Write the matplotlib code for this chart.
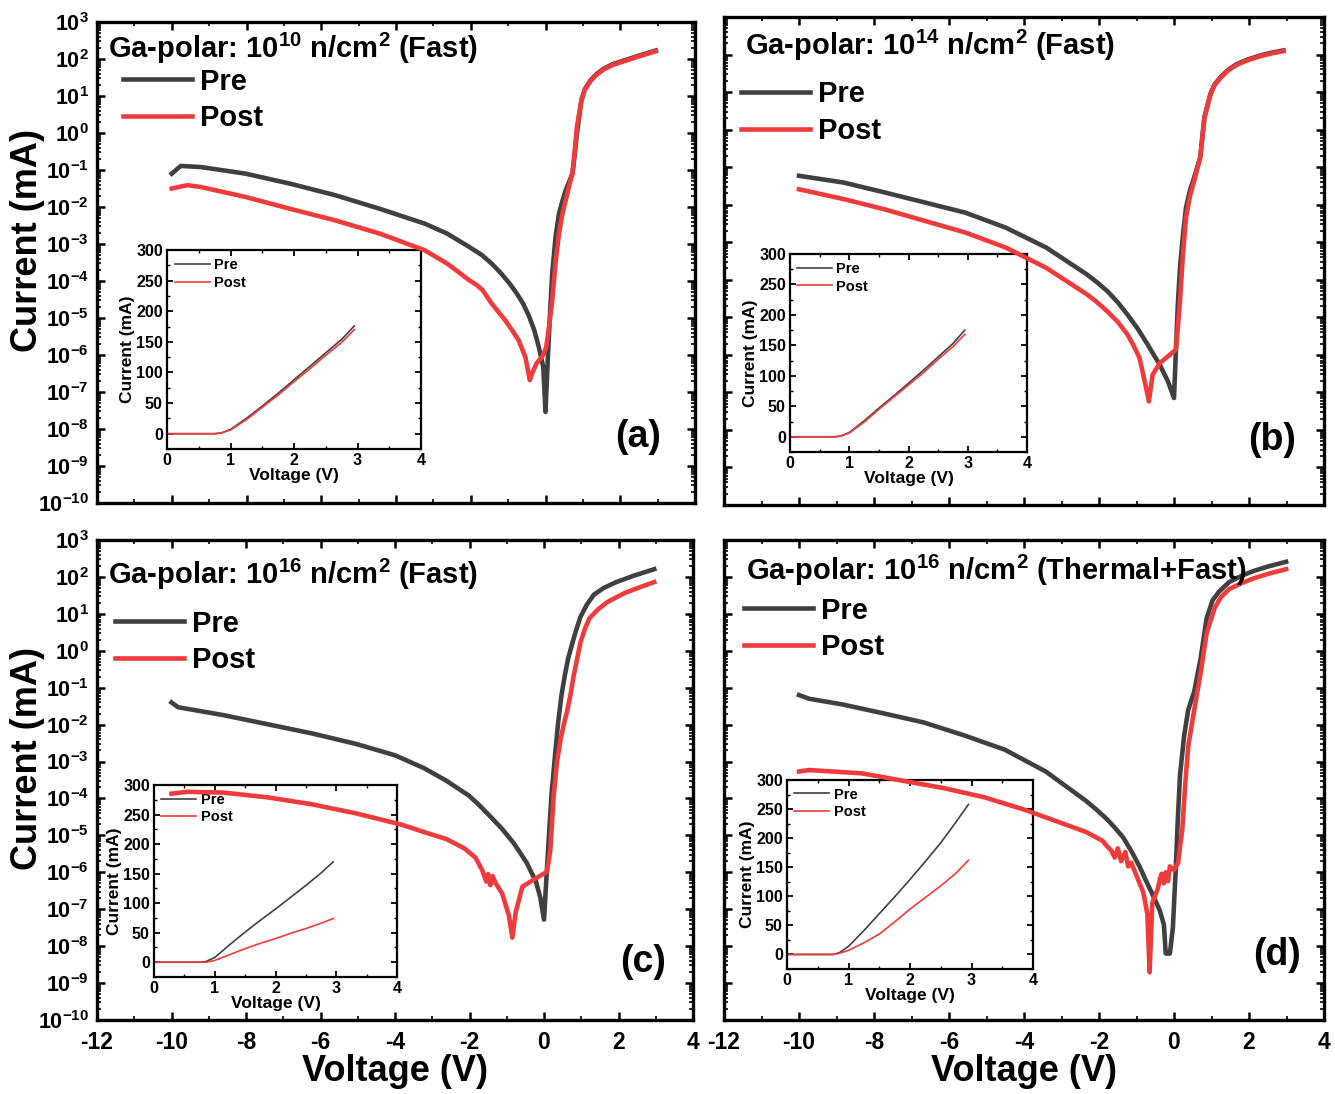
import matplotlib
matplotlib.use("Agg")
import matplotlib.pyplot as plt
import numpy as np
from matplotlib.ticker import MultipleLocator, LogLocator, NullFormatter

plt.rcParams['font.family'] = ['Liberation Sans', 'DejaVu Sans']
plt.rcParams['font.weight'] = 'bold'
plt.rcParams['axes.labelweight'] = 'bold'
plt.rcParams['mathtext.fontset'] = 'custom'
plt.rcParams['mathtext.rm'] = 'Liberation Sans:bold'
plt.rcParams['mathtext.it'] = 'Liberation Sans:bold'
plt.rcParams['mathtext.bf'] = 'Liberation Sans:bold'
plt.rcParams['mathtext.sf'] = 'Liberation Sans:bold'
plt.rcParams['mathtext.default'] = 'rm'
plt.rcParams['axes.unicode_minus'] = False

# ---------------- data (voltage in V, log10 of current in mA) ----------------
Va_pre = [-10, -9.76, -9.22, -8.02, -6.83, -5.63, -4.43, -3.23, -2.63, -2.04, -1.7, -1.44,
          -1.2, -0.96, -0.78, -0.60, -0.45, -0.30, -0.18, -0.06, 0.0, 0.06, 0.12, 0.18, 0.27,
          0.36, 0.45, 0.54, 0.64, 0.72, 0.78, 0.84, 0.96, 1.05, 1.2, 1.35, 1.56, 1.8, 2.16,
          2.5, 2.95]
logIa_pre = [-1.10, -0.89, -0.92, -1.10, -1.37, -1.68, -2.05, -2.45, -2.72, -3.08, -3.3, -3.53,
             -3.78, -4.07, -4.32, -4.61, -4.93, -5.33, -5.78, -6.32, -7.54, -6.14, -4.9, -3.8,
             -2.8, -2.18, -1.85, -1.55, -1.3, -1.10, -0.6, -0.02, 0.88, 1.18, 1.42, 1.58, 1.74,
             1.86, 1.98, 2.09, 2.23]
Va_post = [-10, -9.58, -9.22, -8.02, -6.83, -5.63, -4.43, -3.23, -2.63, -2.35, -2.04, -1.85,
           -1.68, -1.44, -1.08, -0.9, -0.72, -0.54, -0.42, -0.36, -0.24, -0.06, 0.02, 0.10, 0.18,
           0.27, 0.36, 0.45, 0.54, 0.64, 0.72, 0.78, 0.84, 0.96, 1.05, 1.2, 1.35, 1.56, 1.8,
           2.16, 2.5, 2.95]
logIa_post = [-1.50, -1.41, -1.46, -1.73, -2.05, -2.36, -2.72, -3.17, -3.53, -3.74, -3.98, -4.1,
              -4.25, -4.61, -5.06, -5.32, -5.60, -6.05, -6.68, -6.50, -6.23, -6.00, -5.78, -5.2,
              -4.52, -3.5, -2.72, -2.2, -1.82, -1.4, -1.10, -0.5, 0.16, 0.88, 1.16, 1.40, 1.56,
              1.72, 1.84, 1.96, 2.07, 2.21]

Vb_pre = [-10, -8.81, -7.73, -6.65, -5.57, -4.49, -3.41, -2.32, -2.05, -1.78, -1.5, -1.24,
          -0.97, -0.70, -0.54, -0.38, -0.16, 0.0, 0.05, 0.10, 0.16, 0.24, 0.32, 0.43, 0.54,
          0.62, 0.70, 0.81, 0.97, 1.08, 1.24, 1.45, 1.68, 2.0, 2.32, 2.6, 2.92]
logIb_pre = [-1.23, -1.41, -1.67, -1.94, -2.21, -2.61, -3.14, -3.86, -4.07, -4.30, -4.6, -4.93,
             -5.3, -5.73, -6.0, -6.26, -6.71, -7.15, -5.9, -4.7, -3.68, -2.8, -2.08, -1.6, -1.27,
             -1.0, -0.74, 0.33, 0.95, 1.2, 1.40, 1.6, 1.75, 1.88, 1.98, 2.05, 2.11]
Vb_post = [-10, -8.81, -7.73, -6.65, -5.57, -4.49, -3.41, -2.32, -2.05, -1.78, -1.5, -1.24,
           -1.08, -0.92, -0.76, -0.67, -0.57, -0.38, -0.16, 0.05, 0.10, 0.16, 0.24, 0.32, 0.43,
           0.54, 0.62, 0.70, 0.81, 0.97, 1.08, 1.24, 1.45, 1.68, 2.0, 2.32, 2.6, 2.92]
logIb_post = [-1.59, -1.85, -2.12, -2.43, -2.74, -3.14, -3.68, -4.39, -4.6, -4.84, -5.12, -5.46,
              -5.75, -6.08, -6.80, -7.24, -6.53, -6.22, -6.04, -5.86, -5.3, -4.57, -3.3, -2.34,
              -1.75, -1.36, -1.05, -0.74, 0.30, 0.93, 1.18, 1.38, 1.58, 1.73, 1.86, 1.96, 2.03,
              2.09]

Vc_pre = [-10, -9.82, -8.62, -7.42, -6.22, -5.02, -4.0, -3.22, -2.62, -2.02, -1.72, -1.42,
          -1.12, -0.82, -0.64, -0.46, -0.34, -0.22, -0.10, 0.0, 0.08, 0.14, 0.20, 0.29, 0.38,
          0.47, 0.56, 0.65, 0.74, 0.86, 0.98, 1.15, 1.34, 1.6, 1.94, 2.4, 2.96]
logIc_pre = [-1.40, -1.53, -1.74, -1.99, -2.24, -2.53, -2.83, -3.18, -3.52, -3.92, -4.2, -4.51,
             -4.83, -5.20, -5.47, -5.75, -6.0, -6.24, -6.68, -7.28, -5.89, -4.9, -3.92, -2.9,
             -1.94, -1.2, -0.66, -0.2, 0.13, 0.55, 0.92, 1.25, 1.52, 1.70, 1.86, 2.03, 2.21]
Vc_post = [-10, -9.58, -8.62, -7.42, -6.22, -5.02, -3.82, -3.22, -2.62, -2.14, -1.84, -1.66,
           -1.55, -1.50, -1.44, -1.38, -1.30, -1.12, -0.94, -0.85, -0.76, -0.58, -0.34, -0.10,
           0.08, 0.17, 0.26, 0.35, 0.44, 0.53, 0.62, 0.71, 0.80, 0.98, 1.1, 1.22, 1.45, 1.70,
           2.18, 2.6, 2.96]
logIc_post = [-3.87, -3.82, -3.84, -3.97, -4.16, -4.41, -4.71, -4.91, -5.10, -5.35, -5.60, -5.94,
              -6.25, -6.05, -6.35, -6.10, -6.29, -6.58, -7.18, -7.77, -7.08, -6.39, -6.24, -6.09,
              -5.99, -5.40, -3.92, -3.0, -2.43, -2.0, -1.64, -1.2, -0.66, 0.23, 0.6, 0.88, 1.12,
              1.32, 1.57, 1.73, 1.86]

Vd_pre = [-10, -9.73, -8.86, -7.77, -6.68, -5.6, -4.51, -3.42, -2.34, -2.07, -1.79, -1.57,
          -1.36, -1.14, -0.92, -0.76, -0.60, -0.38, -0.27, -0.22, -0.11, -0.03, 0.05, 0.10, 0.16,
          0.27, 0.38, 0.54, 0.71, 0.87, 1.03, 1.2, 1.47, 1.8, 2.12, 2.5, 2.99]
logId_pre = [-1.20, -1.30, -1.45, -1.69, -1.94, -2.29, -2.68, -3.27, -4.07, -4.3, -4.56, -4.8,
             -5.05, -5.42, -5.84, -6.2, -6.54, -7.03, -7.42, -8.2, -8.2, -7.5, -5.84, -4.6, -3.37,
             -2.3, -1.60, -1.1, -0.21, 0.88, 1.37, 1.6, 1.86, 2.03, 2.16, 2.28, 2.41]
Vd_post = [-10, -9.73, -8.32, -7.23, -6.14, -5.05, -3.97, -2.88, -2.34, -1.90, -1.78, -1.68,
           -1.58, -1.50, -1.41, -1.30, -1.22, -1.14, -0.98, -0.82, -0.71, -0.65, -0.58, -0.43,
           -0.38, -0.33, -0.27, -0.22, -0.16, -0.11, 0.0, 0.11, 0.16, 0.22, 0.30, 0.38, 0.54,
           0.71, 0.87, 1.09, 1.25, 1.47, 1.8, 2.12, 2.5, 2.99]
logId_post = [-3.27, -3.23, -3.32, -3.52, -3.72, -3.97, -4.31, -4.71, -4.91, -5.15, -5.30, -5.40,
              -5.60, -5.35, -5.70, -5.45, -5.84, -5.74, -6.14, -6.54, -7.13, -8.71, -6.83, -6.44,
              -6.20, -6.04, -6.30, -6.0, -6.24, -5.84, -5.94, -5.74, -5.3, -4.86, -3.6, -2.58,
              -1.60, -0.61, 0.48, 1.17, 1.45, 1.67, 1.83, 1.96, 2.08, 2.21]

# inset (linear) data
Vin = [0, 0.5, 0.75, 0.85, 1.0, 1.25, 1.5, 1.75, 2.0, 2.25, 2.5, 2.75, 2.95]
Ia_in_pre = [0, 0, 0, 1, 7, 25, 45, 66, 88, 110, 132, 154, 176]
Ia_in_post = [0, 0, 0, 1, 6, 23, 43, 63, 85, 106, 128, 149, 170]
Ib_in_pre = [0, 0, 0, 1, 7, 26, 47, 67, 88, 109, 131, 153, 175]
Ib_in_post = [0, 0, 0, 1, 6, 24, 45, 65, 85, 105, 127, 148, 168]
Ic_in_pre = [0, 0, 0, 1, 8, 30, 51, 71, 90, 110, 130, 151, 170]
Ic_in_post = [0, 0, 0, 0, 3, 13, 23, 32, 40, 49, 57, 66, 74]
Id_in_pre = [0, 0, 0, 3, 14, 41, 70, 99, 129, 160, 192, 228, 258]
Id_in_post = [0, 0, 0, 2, 7, 20, 35, 56, 78, 98, 118, 140, 162]

titles = [r'Ga-polar: 10$^{10}$ n/cm$^{2}$ (Fast)',
          r'Ga-polar: 10$^{14}$ n/cm$^{2}$ (Fast)',
          r'Ga-polar: 10$^{16}$ n/cm$^{2}$ (Fast)',
          r'Ga-polar: 10$^{16}$ n/cm$^{2}$ (Thermal+Fast)']
panel_labels = ['(a)', '(b)', '(c)', '(d)']
series_labels = ['Pre', 'Post']

PRE_C = '#404040'
POST_C = '#ef3b3b'

W, H = 1335, 1094
fig = plt.figure(figsize=(W / 100, H / 100), dpi=100)


def rect(l, r, t, b):
    return [l / W, 1 - b / H, (r - l) / W, (b - t) / H]


main_rects = [rect(97, 695, 22, 503), rect(724, 1324, 17, 505),
              rect(97, 693, 540, 1020), rect(724, 1324, 540, 1020)]
inset_rects = [rect(167, 421, 250, 449), rect(790, 1027, 254, 452),
               rect(154, 397, 785, 977), rect(787, 1033, 780, 969)]
title_pos = [(0.018, 0.925), (0.035, 0.922), (0.018, 0.908), (0.037, 0.917)]
leg_pos = [(0.043, 0.905), (0.028, 0.870), (0.030, 0.855), (0.033, 0.882)]
plab_pos = [(0.905, 0.137), (0.913, 0.133), (0.916, 0.121), (0.922, 0.135)]
ilegpos = [(0.03, 0.96), (0.03, 0.96), (0.03, 0.96), (0.03, 0.96)]

main_data = [(Va_pre, logIa_pre, Va_post, logIa_post),
             (Vb_pre, logIb_pre, Vb_post, logIb_post),
             (Vc_pre, logIc_pre, Vc_post, logIc_post),
             (Vd_pre, logId_pre, Vd_post, logId_post)]
inset_data = [(Ia_in_pre, Ia_in_post), (Ib_in_pre, Ib_in_post),
              (Ic_in_pre, Ic_in_post), (Id_in_pre, Id_in_post)]

for i in range(4):
    # inset first, lower zorder so that the main curves are drawn over it
    axi = fig.add_axes(inset_rects[i], zorder=1)
    ip, iq = inset_data[i]
    axi.plot(Vin, ip, color=PRE_C, lw=1.2, label=series_labels[0])
    axi.plot(Vin, iq, color=POST_C, lw=1.2, label=series_labels[1])
    axi.set_xlim(0, 4)
    axi.set_ylim(-25, 300)
    axi.xaxis.set_major_locator(MultipleLocator(1))
    axi.xaxis.set_minor_locator(MultipleLocator(0.5))
    axi.yaxis.set_major_locator(MultipleLocator(50))
    axi.yaxis.set_minor_locator(MultipleLocator(25))
    axi.tick_params(which='both', direction='in', top=True, right=True, labelsize=11.5, pad=3)
    axi.tick_params(which='major', length=4, width=1.3)
    axi.tick_params(which='minor', length=2.5, width=1.0)
    for s in axi.spines.values():
        s.set_linewidth(1.6)
    axi.set_xlabel('Voltage (V)', fontsize=12.5, labelpad=0)
    axi.set_ylabel('Current (mA)', fontsize=12.5, labelpad=1)
    axi.legend(loc='upper left', bbox_to_anchor=ilegpos[i], frameon=False, fontsize=10.5,
               handlelength=2.4, handletextpad=0.3, labelspacing=0.25, borderaxespad=0,
               borderpad=0)

    ax = fig.add_axes(main_rects[i], zorder=2)
    ax.patch.set_alpha(0)
    vp, lp, vq, lq = main_data[i]
    ax.plot(vp, 10 ** np.array(lp), color=PRE_C, lw=3.3, label=series_labels[0])
    ax.plot(vq, 10 ** np.array(lq), color=POST_C, lw=3.3, label=series_labels[1])
    ax.set_yscale('log')
    ax.set_xlim(-12, 4)
    ax.set_ylim(1e-10, 1e3)
    ax.xaxis.set_major_locator(MultipleLocator(2))
    ax.xaxis.set_minor_locator(MultipleLocator(1))
    ax.yaxis.set_major_locator(LogLocator(base=10, numticks=30))
    ax.yaxis.set_minor_locator(LogLocator(base=10, subs=np.arange(2, 10), numticks=30))
    ax.yaxis.set_minor_formatter(NullFormatter())
    ax.tick_params(which='both', direction='in', top=True, right=True, pad=6)
    ax.tick_params(axis='y', labelsize=15.5)
    ax.tick_params(axis='x', labelsize=16.5, pad=8)
    ax.tick_params(which='major', length=6, width=1.8)
    ax.tick_params(which='minor', length=3, width=1.2)
    for s in ax.spines.values():
        s.set_linewidth(2.4)
    if i < 2:
        ax.tick_params(labelbottom=False)
    else:
        ax.set_xlabel('Voltage (V)', fontsize=26, labelpad=0)
    if i % 2 == 1:
        ax.tick_params(labelleft=False)
    else:
        ax.set_ylabel('Current (mA)', fontsize=26)
        ax.yaxis.set_label_coords(-0.087, 0.545)
    ax.text(title_pos[i][0], title_pos[i][1], titles[i], transform=ax.transAxes,
            ha='left', va='baseline', fontsize=21)
    ax.legend(loc='upper left', bbox_to_anchor=leg_pos[i], frameon=False, fontsize=21,
              handlelength=2.36, handletextpad=0.3, labelspacing=0.3, borderaxespad=0,
              borderpad=0)
    ax.text(plab_pos[i][0], plab_pos[i][1], panel_labels[i], transform=ax.transAxes,
            ha='center', va='center', fontsize=27)

fig.savefig('out.png', dpi=100, facecolor='white')
